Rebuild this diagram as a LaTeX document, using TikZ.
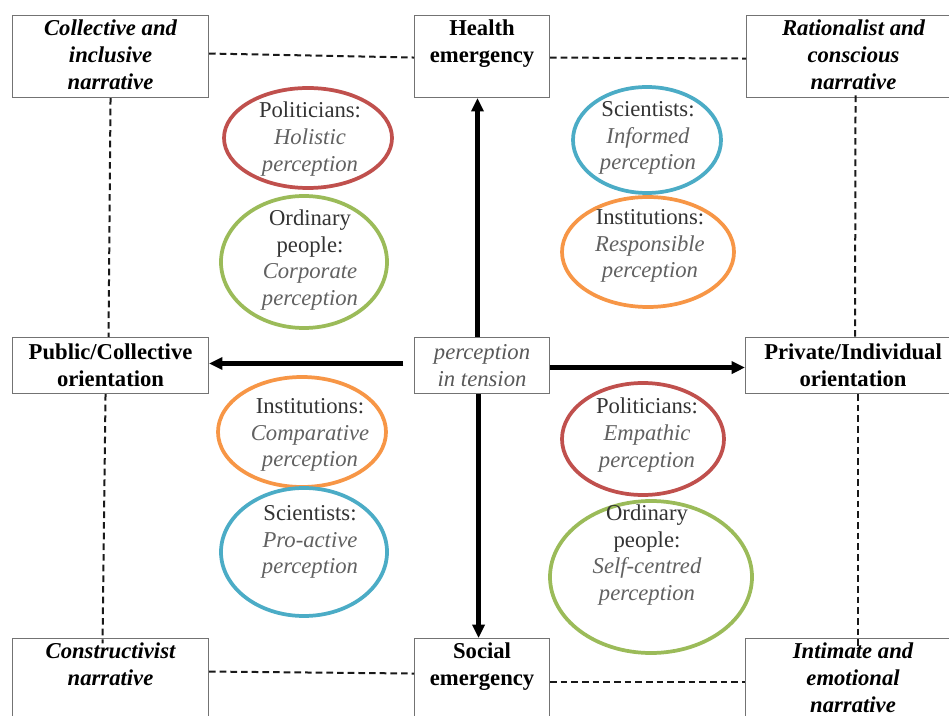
\documentclass[tikz,border=0pt]{standalone}
\usepackage{fontspec}
\setmainfont{Liberation Serif}[
  BoldFont={Liberation Serif Bold},
  ItalicFont={Liberation Serif Italic},
  BoldItalicFont={Liberation Serif Bold Italic}]
\usetikzlibrary{arrows.meta,shapes.geometric,calc}

\definecolor{ovred}{HTML}{C0504D}
\definecolor{ovgreen}{HTML}{9BBB59}
\definecolor{ovblue}{HTML}{4BACC6}
\definecolor{ovorange}{HTML}{F79646}

\newcommand\bodysize{\fontsize{17}{20}\selectfont}
\newcommand\mood[1]{{\itshape\color{black!62}#1}}

\begin{document}
\begin{tikzpicture}[x=0.75pt,y=-0.75pt,
  frame/.style={draw=black!55, line width=0.8pt, inner sep=0pt, anchor=north west},
  boxtxt/.style={anchor=north, align=center, inner sep=0pt, font=\bodysize\bfseries},
  narr/.style={boxtxt, font=\bodysize\bfseries\itshape},
  oval/.style={ellipse, line width=2.8pt, inner sep=0pt},
  ovtxt/.style={align=center, inner sep=0pt, text=black!80, font=\bodysize},
  axis/.style={line width=3.5pt, -{Triangle[length=10pt,width=9pt]}},
  guide/.style={line width=1.5pt, dash pattern=on 5pt off 3pt, draw=black!90},
]
\useasboundingbox (0,0) rectangle (949,716);
\clip (0,0) rectangle (949,716);
\fill[white] (0,0) rectangle (949,716);

% top row
\node[frame, minimum width=147pt, minimum height=61.5pt] (tl) at (12,15) {};
\node[narr] (tlt) at ([yshift=-3.6pt]tl.north) {Collective and\\inclusive\\narrative};
\node[frame, minimum width=101.25pt, minimum height=61.5pt] (he) at (414,15) {};
\node[boxtxt] (het) at ([yshift=-3.6pt]he.north) {Health\\emergency};
\node[frame, minimum width=160.5pt, minimum height=61.5pt] (tr) at (746,15) {};
\node[narr] (trt) at ([yshift=-3.6pt]tr.north) {Rationalist and\\conscious\\narrative};

% middle row
\node[frame, minimum width=147pt, minimum height=42pt, align=center, font=\bodysize\bfseries] (pc) at (12,337) {Public/Collective\\orientation};
\node[frame, minimum width=101.25pt, minimum height=42pt, align=center, text=black!65, font=\bodysize\itshape] (ct) at (414,337) {perception\\in tension};
\node[frame, minimum width=161.25pt, minimum height=42pt, align=center, font=\bodysize\bfseries] (pi) at (745,337) {Private/Individual\\orientation};

% bottom row
\node[frame, minimum width=147pt, minimum height=69pt] (bl) at (12,638) {};
\node[narr] (blt) at ([yshift=-3.6pt]bl.north) {Constructivist\\narrative};
\node[frame, minimum width=101.25pt, minimum height=69pt] (se) at (414,638) {};
\node[boxtxt] (set) at ([yshift=-3.6pt]se.north) {Social\\emergency};
\node[frame, minimum width=161.25pt, minimum height=69pt] (br) at (745,638) {};
\node[narr] (brt) at ([yshift=-3.6pt]br.north) {Intimate and\\emotional\\narrative};

% perception ovals
\node[oval, draw=ovred, minimum width=126pt, minimum height=75pt] (e1) at (308,138) {};
\node[ovtxt] (t1) at (310,139) {Politicians:\\\mood{Holistic}\\\mood{perception}};
\node[oval, draw=ovgreen, minimum width=124.5pt, minimum height=99pt] (e2) at (304,262) {};
\node[ovtxt] (t2) at (310,260) {Ordinary\\people:\\\mood{Corporate}\\\mood{perception}};
\node[oval, draw=ovblue, minimum width=111pt, minimum height=79.5pt] (e3) at (647,140) {};
\node[ovtxt] (t3) at (648,138) {Scientists:\\\mood{Informed}\\\mood{perception}};
\node[oval, draw=ovorange, minimum width=129pt, minimum height=82.5pt] (e4) at (648,252) {};
\node[ovtxt] (t4) at (650,246) {Institutions:\\\mood{Responsible}\\\mood{perception}};
\node[oval, draw=ovorange, minimum width=126pt, minimum height=82.5pt] (e5) at (302,432) {};
\node[ovtxt] (t5) at (310,435) {Institutions:\\\mood{Comparative}\\\mood{perception}};
\node[oval, draw=ovblue, minimum width=124.5pt, minimum height=96pt] (e6) at (304,552) {};
\node[ovtxt] (t6) at (310,542) {Scientists:\\\mood{Pro-active}\\\mood{perception}};
\node[oval, draw=ovred, minimum width=121.5pt, minimum height=84pt] (e7) at (643,439) {};
\node[ovtxt] (t7) at (647,435) {Politicians:\\\mood{Empathic}\\\mood{perception}};
\node[oval, draw=ovgreen, minimum width=151.5pt, minimum height=114pt] (e8) at (651,577) {};
\node[ovtxt] (t8) at (647,555) {Ordinary\\people:\\\mood{Self-centred}\\\mood{perception}};

% dashed frame linking the narratives
\draw[guide] ([yshift=2.25pt]tl.east) -- ([yshift=-0.75pt]he.west);
\draw[guide] ([yshift=-0.75pt]he.east) -- ([yshift=-1.5pt]tr.west);
\draw[guide] (tl.south) -- ([xshift=-1.5pt]pc.north);
\draw[guide] ([xshift=-3.75pt]pc.south) -- ([xshift=-6pt,yshift=-4pt]bl.north);
\draw[guide] ([xshift=1.5pt,yshift=2pt]tr.south) -- ([xshift=1.5pt]pi.north);
\draw[guide] ([xshift=4pt]pi.south) -- ([xshift=4pt,yshift=-14pt]br.north);
\draw[guide] ([yshift=9.75pt]bl.east) -- ([yshift=8.25pt]se.west);
\draw[guide] ([yshift=2.25pt]se.east) -- ([yshift=2.25pt]br.west);

% axes out of the centre
\draw[axis] ([xshift=-3.4pt]ct.north) -- ([xshift=-3.4pt]he.south);
\draw[axis] ([xshift=-2.6pt]ct.south) -- ([xshift=-2.6pt]se.north);
\draw[axis] ([xshift=-8pt,yshift=1.5pt]ct.west) -- ([yshift=1.5pt]pc.east);
\draw[axis] ([yshift=-1.5pt]ct.east) -- ([yshift=-1.5pt]pi.west);
\end{tikzpicture}
\end{document}
